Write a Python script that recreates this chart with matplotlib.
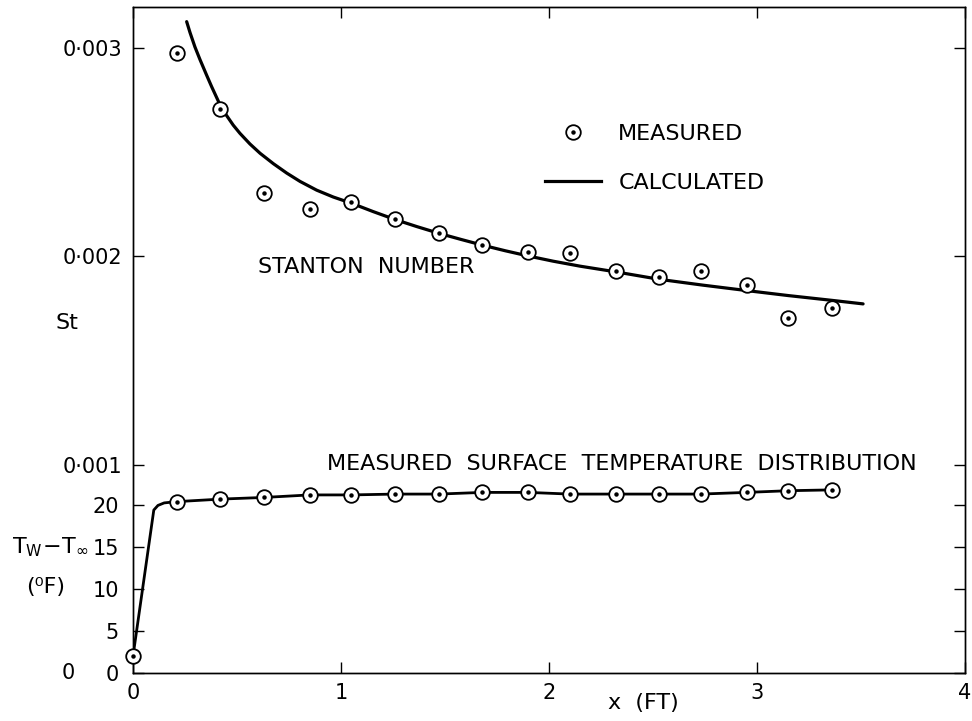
import matplotlib
matplotlib.use("Agg")
import matplotlib.pyplot as plt
from matplotlib.lines import Line2D
from matplotlib.legend_handler import HandlerTuple

plt.rcParams['font.family'] = ['DejaVu Sans']
plt.rcParams['mathtext.fontset'] = 'dejavusans'

# ---- data ----
# Measured Stanton number
x_st_meas = [0.21, 0.42, 0.63, 0.85, 1.05, 1.26, 1.47, 1.68, 1.90, 2.10,
             2.32, 2.53, 2.73, 2.95, 3.15, 3.36]
st_meas = [0.002975, 0.002706, 0.002303, 0.002226, 0.002260, 0.002178,
           0.002114, 0.002055, 0.002023, 0.002018, 0.001930, 0.001903,
           0.001930, 0.001863, 0.001703, 0.001751]

# Calculated Stanton number
x_st_calc = [0.258, 0.274, 0.298, 0.322, 0.354, 0.378, 0.426, 0.482, 0.514,
             0.562, 0.611, 0.675, 0.739, 0.803, 0.883, 0.963, 1.051, 1.155,
             1.26, 1.365, 1.47, 1.575, 1.68, 1.79, 1.90, 2.02, 2.15, 2.32,
             2.53, 2.74, 2.95, 3.15, 3.36, 3.51]
st_calc = [0.003127, 0.003075, 0.003005, 0.002945, 0.002870, 0.002815,
           0.002711, 0.002630, 0.002591, 0.002540, 0.002495, 0.002445,
           0.002400, 0.002360, 0.002318, 0.002285, 0.002255, 0.002215,
           0.002177, 0.002143, 0.002111, 0.002082, 0.002054, 0.002027,
           0.002002, 0.001977, 0.001953, 0.001926, 0.001890, 0.001862,
           0.001836, 0.001812, 0.001789, 0.001772]

# Measured surface temperature distribution (deg F)
x_t_meas = [0.0, 0.21, 0.42, 0.63, 0.85, 1.05, 1.26, 1.47, 1.68, 1.90,
            2.10, 2.32, 2.53, 2.73, 2.95, 3.15, 3.36]
t_meas = [2.0, 20.4, 20.7, 20.9, 21.2, 21.2, 21.3, 21.3, 21.5, 21.5,
          21.3, 21.3, 21.3, 21.3, 21.5, 21.7, 21.8]
# Temperature curve through the points (with the initial rise)
x_t_line = [0.0, 0.10, 0.12, 0.15, 0.21, 0.42, 0.63, 0.85, 1.05, 1.26, 1.47,
            1.68, 1.90, 2.10, 2.32, 2.53, 2.73, 2.95, 3.15, 3.36]
t_line = [2.0, 19.4, 19.95, 20.25, 20.4, 20.7, 20.9, 21.2, 21.2, 21.3, 21.3,
          21.5, 21.5, 21.3, 21.3, 21.3, 21.3, 21.5, 21.7, 21.8]

x_ticks = [0, 1, 2, 3, 4]
st_ticks = [0.001, 0.002, 0.003]
st_tick_labels = ['0·001', '0·002', '0·003']
t_ticks = [0, 5, 10, 15, 20]
t_tick_labels = ['0', '5', '10', '15', '20']

# ---- figure ----
fig = plt.figure(figsize=(9.72, 7.21), dpi=100)
ax = fig.add_axes([133 / 972, 1 - 673 / 721, (965 - 133) / 972, (673 - 7) / 721])
ax2 = ax.twinx()

ax.set_xlim(0, 4)
ax.set_ylim(0, 666 / 208.3 * 0.001)
ax2.set_ylim(0, 666 / 8.4)

mk = dict(marker='o', ms=10.5, mfc='white', mec='black', mew=1.3, ls='none', zorder=5)
dot = dict(marker='o', ms=2.2, mfc='black', mec='black', ls='none', zorder=6)

# Stanton number
ax.plot(x_st_calc, st_calc, color='black', lw=2.3, zorder=3,
        solid_joinstyle='round', solid_capstyle='round')
ax.plot(x_st_meas, st_meas, **mk)
ax.plot(x_st_meas, st_meas, **dot)

# Temperature
ax2.plot(x_t_line, t_line, color='black', lw=2.0, zorder=3,
         solid_joinstyle='round')
ax2.plot(x_t_meas, t_meas, clip_on=False, **mk)
ax2.plot(x_t_meas, t_meas, clip_on=False, **dot)

# ticks
lab = 15
ax.set_xticks(x_ticks)
ax.set_xticklabels([str(v) for v in x_ticks])
ax.set_yticks(st_ticks)
ax.set_yticklabels(st_tick_labels)
ax.tick_params(axis='both', direction='in', length=8, width=1,
               top=True, right=True, labelsize=lab)
ax.tick_params(axis='y', pad=8)
ax.tick_params(axis='x', pad=7)

ax2.set_yticks(t_ticks)
ax2.set_yticklabels(t_tick_labels)
ax2.tick_params(axis='y', direction='in', length=8, width=1, left=True,
                right=True, labelleft=True, labelright=False, labelsize=lab, pad=10)

for a in (ax, ax2):
    for s in a.spines.values():
        s.set_linewidth(1.0)
        s.set_color('black')

# labels & annotations
fs = 16
fig.text(68 / 972, 1 - 673 / 721, '0', fontsize=lab, ha='center', va='center')
fig.text(67 / 972, 1 - 323 / 721, 'St', fontsize=fs, ha='center', va='center')
fig.text(50 / 972, 1 - 547 / 721, r'$\mathregular{T_W\!-\!T_\infty}$', fontsize=fs,
         ha='center', va='center')
fig.text(46 / 972, 1 - 587 / 721, '(⁰F)', fontsize=fs, ha='center', va='center')
fig.text(643 / 972, 1 - 703 / 721, 'x  (FT)', fontsize=fs, ha='center', va='center')
fig.text(258 / 972, 1 - 267 / 721, 'STANTON  NUMBER', fontsize=fs, ha='left', va='center')
fig.text(327 / 972, 1 - 464 / 721, 'MEASURED  SURFACE  TEMPERATURE  DISTRIBUTION',
         fontsize=fs, ha='left', va='center')

# legend
h_meas = (Line2D([], [], **mk), Line2D([], [], **dot))
h_calc = Line2D([], [], color='black', lw=2.3)
leg = ax2.legend([h_meas, h_calc], ['MEASURED', 'CALCULATED'],
                 handler_map={tuple: HandlerTuple(ndivide=1, pad=0)},
                 loc='upper left', bbox_to_anchor=(545 / 972, 1 - 124 / 721),
                 bbox_transform=fig.transFigure, frameon=False, fontsize=fs,
                 handlelength=2.5, handletextpad=0.8, labelspacing=1.3,
                 borderpad=0, borderaxespad=0)

fig.savefig('out.png', dpi=100)
